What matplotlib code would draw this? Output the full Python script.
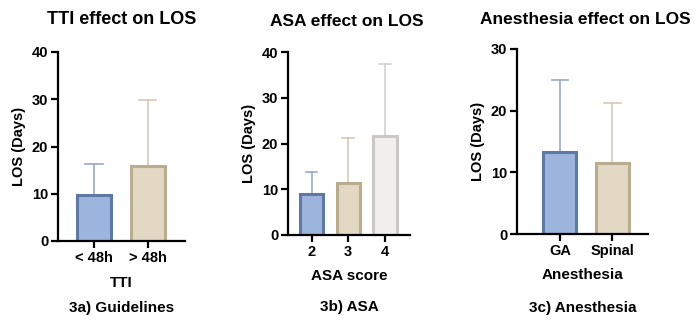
import matplotlib.pyplot as plt

plt.rcParams['font.family'] = ['Liberation Sans', 'DejaVu Sans']
plt.rcParams['font.weight'] = 'bold'

# mean LOS (days) and upper SD bar for each grouping
tti_groups = ['< 48h', '> 48h']
tti_mean = [9.8, 15.9]
tti_upper = [16.2, 29.8]

asa_groups = ['2', '3', '4']
asa_mean = [8.9, 11.4, 21.7]
asa_upper = [13.7, 21.1, 37.4]

anes_groups = ['GA', 'Spinal']
anes_mean = [13.3, 11.5]
anes_upper = [24.9, 21.2]

fills = ['#9db5dc', '#e3d8c4', '#f1f0ee']
edges = ['#5e79a4', '#baac8f', '#c9c8c4']
errs = ['#9ba9c0', '#d4cbb9', '#d3d2ce']

fig = plt.figure(figsize=(7, 3.24), dpi=100)

panels = [
    # rect (px), groups, means, uppers, ymax, yticks, xlim, title, xlabel, caption, title pos, label rows, title size
    ([58, 241, 185, 52], tti_groups, tti_mean, tti_upper, 40, [0, 10, 20, 30, 40], (-0.67, 1.69),
     'TTI effect on LOS', 'TTI', '3a) Guidelines', (122, 20), (283, 308), 13),
    ([288, 235, 410, 52], asa_groups, asa_mean, asa_upper, 40, [0, 10, 20, 30, 40], (-0.64, 2.68),
     'ASA effect on LOS', 'ASA score', '3b) ASA', (347, 22), (276, 307), 12.5),
    ([517, 234, 648, 49], anes_groups, anes_mean, anes_upper, 30, [0, 10, 20, 30], (-0.82, 1.68),
     'Anesthesia effect on LOS', 'Anesthesia', '3c) Anesthesia', (585, 20), (275, 308), 12.5),
]

W, H = 700, 324
for (x0, yb, x1, yt), groups, means, uppers, ymax, yticks, xlim, title, xlabel, caption, tpos, lpos, tsize in panels:
    ax = fig.add_axes([x0 / W, 1 - yb / H, (x1 - x0) / W, (yb - yt) / H])
    pos = list(range(len(groups)))
    for i, (m, u) in enumerate(zip(means, uppers)):
        ax.plot([i, i], [m, u], color=errs[i], lw=1.2, zorder=1)
        ax.plot([i - 0.16, i + 0.16], [u, u], color=errs[i], lw=1.2, zorder=1)
        ax.bar(i, m, width=0.63, color=fills[i], edgecolor=edges[i], linewidth=2.2, zorder=2)
    ax.set_xlim(*xlim)
    ax.set_ylim(0, ymax)
    ax.set_yticks(yticks)
    ax.set_xticks(pos)
    ax.set_xticklabels(groups)
    ax.spines['top'].set_visible(False)
    ax.spines['right'].set_visible(False)
    for s in ['left', 'bottom']:
        ax.spines[s].set_linewidth(1.6)
    ax.tick_params(width=1.6, length=5, labelsize=10.5, pad=2)
    ax.set_ylabel('LOS (Days)', fontsize=10.5, fontweight='bold', labelpad=4)
    for lab in ax.get_xticklabels() + ax.get_yticklabels():
        lab.set_fontweight('bold')
    fig.text(tpos[0] / W, 1 - tpos[1] / H, title, ha='center', va='center', fontsize=tsize, fontweight='bold')
    cx = (x0 + x1) / 2 / W
    fig.text(cx, 1 - lpos[0] / H, xlabel, ha='center', va='center', fontsize=11, fontweight='bold')
    fig.text(cx, 1 - lpos[1] / H, caption, ha='center', va='center', fontsize=11, fontweight='bold')

fig.savefig('out.png', dpi=100)
